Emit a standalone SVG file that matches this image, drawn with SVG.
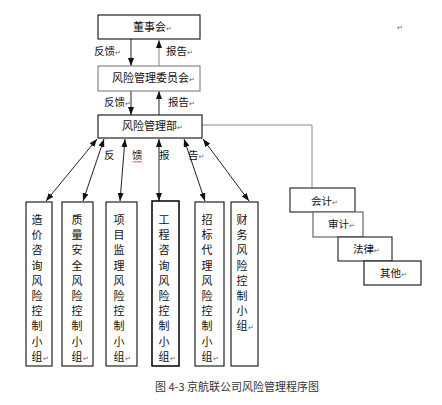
<svg xmlns="http://www.w3.org/2000/svg" width="442" height="405" viewBox="0 0 442 405">
<style>
  .t { font-family: "Noto Sans CJK SC", "Noto Sans", sans-serif; font-size: 11px; fill: #111; }
  .lb { font-family: "Noto Sans CJK SC", "Noto Sans", sans-serif; font-size: 10.5px; fill: #111; }
  .rt { font-size: 7px; fill: #666; font-family: "DejaVu Sans", sans-serif; }
  .bk { fill: #fff; stroke: #222; stroke-width: 1.2; }
  .gy { fill: #fff; stroke: #888; stroke-width: 1.2; }
  .c { fill: none; stroke: #222; stroke-width: 1; }
  .cg { fill: none; stroke: #888; stroke-width: 1; }
</style>
<defs>
  <marker id="ah" viewBox="0 0 8 6" refX="8" refY="3" markerWidth="8" markerHeight="6" markerUnits="userSpaceOnUse" orient="auto-start-reverse">
    <path d="M0,0 L8,3 L0,6 z" fill="#111"/>
  </marker>
</defs>
<rect width="442" height="405" fill="#fff"/>

<g id="connectors">
  <line class="c" x1="131" y1="39" x2="131" y2="66" marker-end="url(#ah)"/>
  <line class="cg" x1="159" y1="66" x2="159" y2="40" marker-end="url(#ah)"/>
  <line class="c" x1="131" y1="91" x2="131" y2="115" marker-end="url(#ah)"/>
  <line class="c" x1="159" y1="115" x2="159" y2="91" marker-end="url(#ah)"/>
  <polyline class="cg" points="202,125 312,125 312,188"/>
  <line class="c" x1="97" y1="139" x2="46" y2="201" marker-start="url(#ah)" marker-end="url(#ah)"/>
  <line class="c" x1="104" y1="139" x2="83" y2="201" marker-start="url(#ah)" marker-end="url(#ah)"/>
  <line class="c" x1="125" y1="139" x2="120" y2="201" marker-start="url(#ah)" marker-end="url(#ah)"/>
  <line class="c" x1="159" y1="139" x2="159" y2="201" marker-start="url(#ah)" marker-end="url(#ah)"/>
  <line class="c" x1="184" y1="139" x2="205" y2="201" marker-start="url(#ah)" marker-end="url(#ah)"/>
  <line class="c" x1="203" y1="139" x2="249" y2="201" marker-start="url(#ah)" marker-end="url(#ah)"/>
  <text class="lb" x="94" y="55">反馈<tspan class="rt">↵</tspan></text>
  <text class="lb" x="166" y="55">报告<tspan class="rt">↵</tspan></text>
  <text class="lb" x="104" y="106">反馈<tspan class="rt">↵</tspan></text>
  <text class="lb" x="168" y="106">报告<tspan class="rt">↵</tspan></text>
  <text class="lb" x="104" y="159">反</text>
  <text class="lb" x="132" y="159">馈</text>
  <path d="M133,162.5 l1.5,-1.5 l1.5,1.5 l1.5,-1.5 l1.5,1.5 l1.5,-1.5 l1.5,1.5" fill="none" stroke="#e00" stroke-width="0.8"/>
  <text class="lb" x="159" y="159">报</text>
  <text class="lb" x="188" y="159">告<tspan class="rt">↵</tspan></text>
</g>

<g id="dongshihui">
  <rect class="bk" x="98" y="15" width="102" height="24"/>
  <text class="t" x="133" y="31">董事会<tspan class="rt">↵</tspan></text>
</g>
<g id="weiyuanhui">
  <rect class="gy" x="98" y="66" width="102" height="25"/>
  <text class="t" x="112" y="82">风险管理委员会<tspan class="rt">↵</tspan></text>
</g>
<g id="guanlibu">
  <rect class="bk" x="98" y="115" width="104" height="23"/>
  <text class="t" x="122" y="130">风险管理部<tspan class="rt">↵</tspan></text>
</g>

<g id="g1">
  <rect class="bk" x="26" y="202" width="26" height="164"/>
  <text class="t" text-anchor="middle"><tspan x="37" y="224">造</tspan><tspan x="37" dy="15.2">价</tspan><tspan x="37" dy="15.2">咨</tspan><tspan x="37" dy="15.2">询</tspan><tspan x="37" dy="15.2">风</tspan><tspan x="37" dy="15.2">险</tspan><tspan x="37" dy="15.2">控</tspan><tspan x="37" dy="15.2">制</tspan><tspan x="37" dy="15.2">小</tspan><tspan x="37" dy="15.2">组</tspan></text>
  <text class="rt" x="43" y="361">↵</text>
</g>
<g id="g2">
  <rect class="bk" x="62" y="202" width="31" height="164"/>
  <text class="t" text-anchor="middle"><tspan x="77" y="224">质</tspan><tspan x="77" dy="15.2">量</tspan><tspan x="77" dy="15.2">安</tspan><tspan x="77" dy="15.2">全</tspan><tspan x="77" dy="15.2">风</tspan><tspan x="77" dy="15.2">险</tspan><tspan x="77" dy="15.2">控</tspan><tspan x="77" dy="15.2">制</tspan><tspan x="77" dy="15.2">小</tspan><tspan x="77" dy="15.2">组</tspan></text>
  <text class="rt" x="83" y="361">↵</text>
</g>
<g id="g3">
  <rect class="bk" x="106" y="202" width="31" height="164"/>
  <text class="t" text-anchor="middle"><tspan x="119" y="224">项</tspan><tspan x="119" dy="15.2">目</tspan><tspan x="119" dy="15.2">监</tspan><tspan x="119" dy="15.2">理</tspan><tspan x="119" dy="15.2">风</tspan><tspan x="119" dy="15.2">险</tspan><tspan x="119" dy="15.2">控</tspan><tspan x="119" dy="15.2">制</tspan><tspan x="119" dy="15.2">小</tspan><tspan x="119" dy="15.2">组</tspan></text>
  <text class="rt" x="125" y="361">↵</text>
</g>
<g id="g4">
  <rect class="bk" x="152" y="201" width="27" height="165" style="stroke:#000;stroke-width:1.5"/>
  <text class="t" text-anchor="middle"><tspan x="164" y="224">工</tspan><tspan x="164" dy="15.2">程</tspan><tspan x="164" dy="15.2">咨</tspan><tspan x="164" dy="15.2">询</tspan><tspan x="164" dy="15.2">风</tspan><tspan x="164" dy="15.2">险</tspan><tspan x="164" dy="15.2">控</tspan><tspan x="164" dy="15.2">制</tspan><tspan x="164" dy="15.2">小</tspan><tspan x="164" dy="15.2">组</tspan></text>
  <text class="rt" x="170" y="361">↵</text>
</g>
<g id="g5">
  <rect class="bk" x="195" y="202" width="29" height="164"/>
  <text class="t" text-anchor="middle"><tspan x="207" y="224">招</tspan><tspan x="207" dy="15.2">标</tspan><tspan x="207" dy="15.2">代</tspan><tspan x="207" dy="15.2">理</tspan><tspan x="207" dy="15.2">风</tspan><tspan x="207" dy="15.2">险</tspan><tspan x="207" dy="15.2">控</tspan><tspan x="207" dy="15.2">制</tspan><tspan x="207" dy="15.2">小</tspan><tspan x="207" dy="15.2">组</tspan></text>
  <text class="rt" x="213" y="361">↵</text>
</g>
<g id="g6">
  <rect class="bk" x="231" y="202" width="27" height="164"/>
  <text class="t" text-anchor="middle"><tspan x="242" y="224">财</tspan><tspan x="242" dy="15.2">务</tspan><tspan x="242" dy="15.2">风</tspan><tspan x="242" dy="15.2">险</tspan><tspan x="242" dy="15.2">控</tspan><tspan x="242" dy="15.2">制</tspan><tspan x="242" dy="15.2">小</tspan><tspan x="242" dy="15.2">组</tspan></text>
  <text class="rt" x="248" y="330">↵</text>
</g>

<g id="kuaiji">
  <rect class="bk" x="290" y="188" width="65" height="24" style="stroke:#333"/>
  <text class="lb" x="311" y="205">会计<tspan class="rt">↵</tspan></text>
</g>
<g id="shenji">
  <rect class="gy" x="313" y="212" width="50" height="25" style="stroke:#666"/>
  <text class="lb" x="328" y="228">审计<tspan class="rt">↵</tspan></text>
</g>
<g id="falv">
  <rect class="bk" x="338" y="237" width="54" height="24" style="stroke:#333"/>
  <text class="lb" x="353" y="253">法律<tspan class="rt">↵</tspan></text>
</g>
<g id="qita">
  <rect class="bk" x="364" y="261" width="57" height="24"/>
  <text class="lb" x="380" y="277">其他<tspan class="rt">↵</tspan></text>
</g>

<text class="rt" x="397" y="30">↵</text>
<text x="155" y="391" style="font-family:'Noto Sans CJK SC','Noto Sans',sans-serif;font-size:11px;fill:#333">图 4-3 京航联公司风险管理程序图</text>
</svg>
